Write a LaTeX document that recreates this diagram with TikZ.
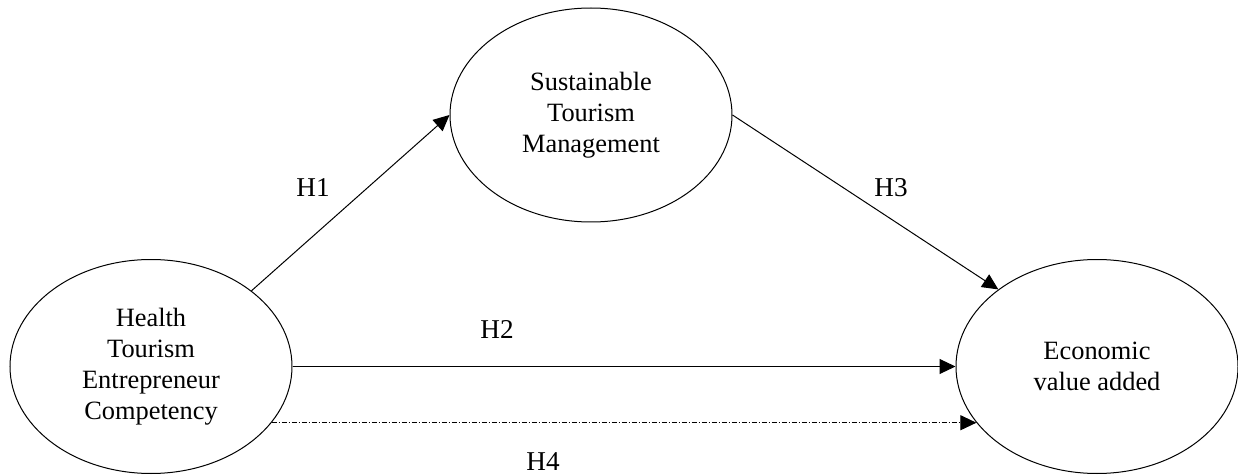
\documentclass[tikz,border=0pt]{standalone}
\usepackage{fontspec}
\setmainfont{Liberation Serif}
\usepackage{tikz}
\usetikzlibrary{
arrows.meta,
positioning,
shapes.geometric
}

\tikzset{
construct/.style={draw, ellipse, line width=0.5pt, inner sep=0pt,
  minimum width=141pt, minimum height=107pt, align=center,
  font=\fontsize{13.2}{15.4}\selectfont},
hyplabel/.style={font=\fontsize{13.6}{15.4}\selectfont, inner sep=0pt},
path/.style={line width=0.5pt, -{Triangle[length=8pt,width=7.5pt]}},
dashdot/.style={path, dash pattern=on 2.5pt off 1pt on 0.5pt off 1pt}
}

\begin{document}
\begin{tikzpicture}[x=0.5pt, y=-0.5pt]
\useasboundingbox (0,0) rectangle (1238,476);
\node[construct] (hetc) at (151,366.5) {Health\\Tourism\\Entrepreneur\\Competency};
\node[construct] (stm) at (591,115) {Sustainable\\Tourism\\Management};
\node[construct] (evadd) at (1097,366.5) {Economic\\value added};
\draw[path] (hetc.37) -- (stm.west);
\draw[path] (stm.east) -- (evadd.142);
\draw[path] (hetc.east) -- (evadd.west);
\draw[dashdot] (hetc.-25) -- (evadd.205);
\node[hyplabel] (h1) at (313,188) {H1};
\node[hyplabel] (h2) at (497,329) {H2};
\node[hyplabel] (h3) at (891,188) {H3};
\node[hyplabel] (h4) at (543,462) {H4};
\end{tikzpicture}
\end{document}
